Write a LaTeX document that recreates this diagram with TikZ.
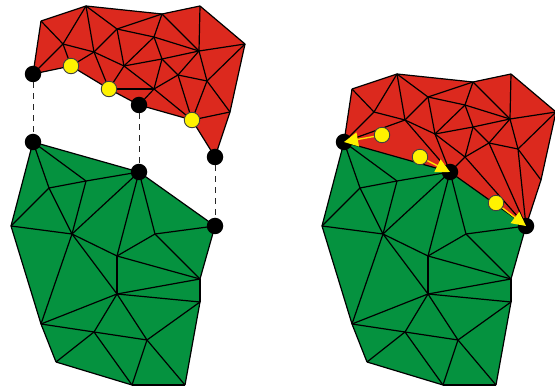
\documentclass[tikz,border=0pt]{standalone}
\usetikzlibrary{arrows.meta}
\definecolor{meshred}{HTML}{DC291E}
\definecolor{meshgreen}{HTML}{05923F}
\definecolor{pointyellow}{HTML}{FFF200}
\tikzset{
  x=1pt,y=-1pt,
  meshline/.style={draw=black,line width=1.2pt,line join=round},
  blackdot/.style={circle,fill=black,inner sep=0pt,minimum size=16.5pt},
  yellowdot/.style={circle,fill=pointyellow,draw=black!75,line width=0.9pt,inner sep=0pt,minimum size=15.5pt},
  gapline/.style={draw=black!85,line width=1pt,dash pattern=on 6pt off 5pt},
  movearrow/.style={draw=pointyellow!85!orange,line width=1.4pt,-{Triangle[length=14pt,width=14pt,color=pointyellow,fill=pointyellow]}},
}
\begin{document}
\begin{tikzpicture}
\useasboundingbox (0,0) rectangle (555,387);
% shared vertices of the upper (red) mesh
\foreach \n/\x/\y in {B/41/21,C/86/6,D/162/14,E/200/6,F/245/44,G/230/112,
  a/63/44,b/94/52,c/117/29,d/124/66,e/154/37,f/162/59,g/199/51,h/178/75,i/207/81,j/154/89}{
  \coordinate (L\n) at (\x,\y);
  \coordinate (R\n) at (\x+311,\y+68);
}
% shared vertices of the lower (green) mesh
\foreach \n/\x/\y in {P0/33/142,P1/139/172,P2/215/226,P3/200/279,P4/200/302,P5/185/385,P6/132/385,P7/56/362,P8/41/324,P9/11/226,
  q1/49/188,q2/86/181,q3/72/234,q4/117/256,q5/155/234,q6/117/294,q7/94/332,q8/147/340}{
  \coordinate (L\n) at (\x,\y);
  \coordinate (R\n) at (\x+311,\y);
}
% left upper mesh border points
\coordinate (LA) at (33,74);
\coordinate (LK) at (139,105);
\coordinate (LH) at (215,157);
\coordinate (LY1) at (71,66);
\coordinate (LY2) at (109,89);
\coordinate (LY3) at (192,120);
% fills
\fill[meshred] (LA) -- (LB) -- (LC) -- (LD) -- (LE) -- (LF) -- (LG) -- (LH) -- (LY3) -- (LK) -- (LY2) -- (LY1) -- cycle;
\fill[meshred] (RB) -- (RC) -- (RD) -- (RE) -- (RF) -- (RG) -- (RP2) -- (RP1) -- (RP0) -- cycle;
\foreach \s in {L,R}{
  \fill[meshgreen] (\s P0) -- (\s P1) -- (\s P2) -- (\s P3) -- (\s P4) -- (\s P5) -- (\s P6) -- (\s P7) -- (\s P8) -- (\s P9) -- cycle;
  % lower mesh edges
  \foreach \u/\v in {P0/P1,P1/P2,P2/P3,P3/P4,P4/P5,P5/P6,P6/P7,P7/P8,P8/P9,P9/P0,
    P0/q1,P0/q2,q1/q2,q2/P1,q1/P9,q1/q3,q2/q3,P9/q3,q3/P1,P1/q4,P1/q5,q5/P2,q5/q4,q4/q3,q5/P3,q4/P3,
    q4/q6,q3/q6,q3/P8,q6/P8,q6/P3,q6/P4,q6/q7,q6/q8,P8/q7,q7/q8,q8/P4,q7/P7,q7/P6,q8/P6,q8/P5}
    \draw[meshline] (\s\u) -- (\s\v);
  % upper mesh interior edges common to both
  \foreach \u/\v in {B/C,C/D,D/E,E/F,F/G,
    B/a,C/a,a/b,C/b,C/c,c/b,b/d,c/d,c/D,c/e,D/e,D/g,E/g,g/F,g/e,e/d,e/f,d/f,f/g,
    j/f,j/h,f/h,h/g,g/i,h/i,i/F,i/G,d/j}
    \draw[meshline] (\s\u) -- (\s\v);
}
% left only edges
\foreach \u/\v in {A/B,G/H,H/Y3,Y3/K,K/Y2,Y2/Y1,Y1/A,a/A,a/Y1,b/Y1,b/Y2,d/Y2,Y2/j,j/K,j/Y3,h/Y3,i/Y3,Y3/G}
  \draw[meshline] (L\u) -- (L\v);
% right only edges
\foreach \u/\v in {P0/B,a/P0,b/P0,b/P1,d/P1,j/P1,j/P2,h/P2,i/P2,G/P2}
  \draw[meshline] (R\u) -- (R\v);
% left nodes
\node[blackdot] (LNA) at (LA) {};
\node[blackdot] (LNK) at (LK) {};
\node[blackdot] (LNH) at (LH) {};
\node[blackdot] (LN0) at (LP0) {};
\node[blackdot] (LN1) at (LP1) {};
\node[blackdot] (LN2) at (LP2) {};
\draw[gapline] (LNA) -- (LN0);
\draw[gapline] (LNK) -- (LN1);
\draw[gapline] (LNH) -- (LN2);
\node[yellowdot] at (LY1) {};
\node[yellowdot] at (LY2) {};
\node[yellowdot] at (LY3) {};
% right nodes
\node[blackdot] (RN0) at (RP0) {};
\node[blackdot] (RN1) at (RP1) {};
\node[blackdot] (RN2) at (RP2) {};
\node[yellowdot] (RY1) at (382,135) {};
\node[yellowdot] (RY2) at (420,157) {};
\node[yellowdot] (RY3) at (496,203) {};
\draw[movearrow] (RY1) -- (RN0.center);
\draw[movearrow] (RY2) -- (RN1.center);
\draw[movearrow] (RY3) -- (RN2.center);
\end{tikzpicture}
\end{document}
